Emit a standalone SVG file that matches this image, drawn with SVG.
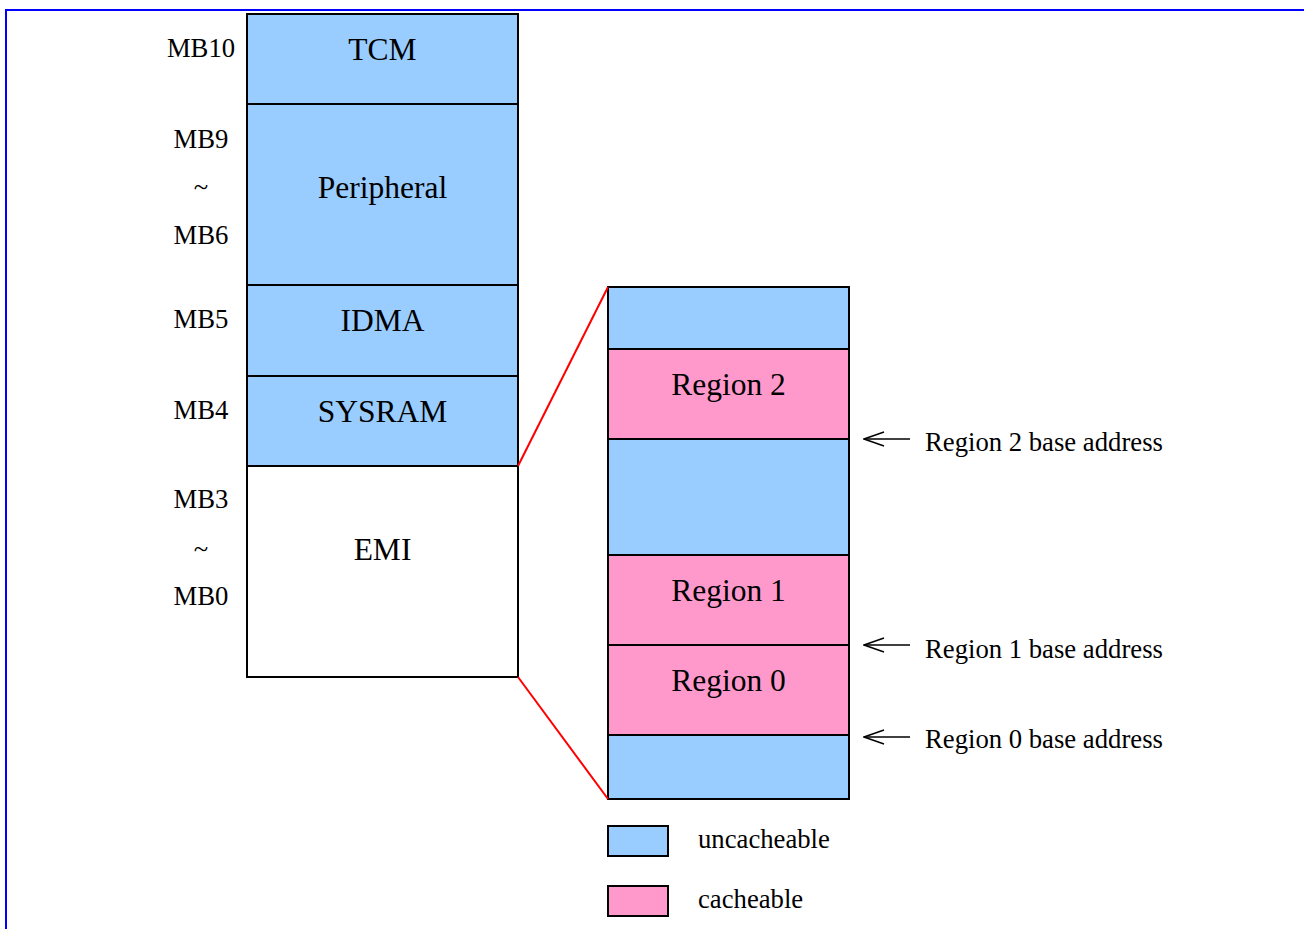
<svg xmlns="http://www.w3.org/2000/svg" width="1304" height="929" viewBox="0 0 1304 929">
  <defs>
    <style>
      .blk { stroke: #000; stroke-width: 2; }
      .unc { fill: #99ccff; }
      .cac { fill: #ff99cc; }
      .emi { fill: #ffffff; }
      .big { font-family: "Liberation Serif", "Times New Roman", serif; font-size: 31.5px; fill: #000; text-anchor: middle; }
      .lbl { font-family: "Liberation Serif", "Times New Roman", serif; font-size: 26.7px; fill: #000; }
      .mid { text-anchor: middle; }
      .zoom { stroke: #ff0000; stroke-width: 2; fill: none; }
      .ptr { stroke: #000; stroke-width: 1.5; fill: none; }
    </style>
    <marker id="open" viewBox="0 0 22 16" refX="21" refY="8" markerWidth="22" markerHeight="16" markerUnits="userSpaceOnUse" orient="auto">
      <path d="M1,1 L21,8 L1,15" fill="none" stroke="#000" stroke-width="1.5"/>
    </marker>
  </defs>

  <rect width="1304" height="929" fill="#ffffff"/>
  <!-- page frame -->
  <rect x="6" y="10" width="1310" height="940" fill="none" stroke="#0000ff" stroke-width="2"/>

  <!-- memory map -->
  <g id="tcm"><rect class="blk unc" x="247" y="14" width="271" height="90"/><text class="big" x="382.5" y="60">TCM</text></g>
  <g id="peripheral"><rect class="blk unc" x="247" y="104" width="271" height="181"/><text class="big" x="382.5" y="198">Peripheral</text></g>
  <g id="idma"><rect class="blk unc" x="247" y="285" width="271" height="91"/><text class="big" x="382.5" y="331">IDMA</text></g>
  <g id="sysram"><rect class="blk unc" x="247" y="376" width="271" height="90"/><text class="big" x="382.5" y="422">SYSRAM</text></g>
  <g id="emi"><rect class="blk emi" x="247" y="466" width="271" height="211"/><text class="big" x="382.5" y="560">EMI</text></g>

  <!-- bank labels -->
  <g id="bank-labels">
    <text class="lbl mid" x="201" y="57">MB10</text>
    <text class="lbl mid" x="201" y="148">MB9</text>
    <text class="lbl mid" x="201" y="196">~</text>
    <text class="lbl mid" x="201" y="244">MB6</text>
    <text class="lbl mid" x="201" y="328">MB5</text>
    <text class="lbl mid" x="201" y="419">MB4</text>
    <text class="lbl mid" x="201" y="508">MB3</text>
    <text class="lbl mid" x="201" y="558">~</text>
    <text class="lbl mid" x="201" y="605">MB0</text>
  </g>

  <!-- EMI detail -->
  <g id="emi-top"><rect class="blk unc" x="608" y="287" width="241" height="62"/></g>
  <g id="region2"><rect class="blk cac" x="608" y="349" width="241" height="90"/><text class="big" x="728.5" y="395">Region 2</text></g>
  <g id="emi-gap"><rect class="blk unc" x="608" y="439" width="241" height="116"/></g>
  <g id="region1"><rect class="blk cac" x="608" y="555" width="241" height="90"/><text class="big" x="728.5" y="601">Region 1</text></g>
  <g id="region0"><rect class="blk cac" x="608" y="645" width="241" height="90"/><text class="big" x="728.5" y="691">Region 0</text></g>
  <g id="emi-bottom"><rect class="blk unc" x="608" y="735" width="241" height="64"/></g>

  <!-- connectors -->
  <g id="connectors">
    <line class="zoom" x1="518" y1="466" x2="608" y2="287"/>
    <line class="zoom" x1="518" y1="677" x2="608" y2="799"/>
    <line class="ptr" x1="910" y1="439" x2="864" y2="439" marker-end="url(#open)"/>
    <line class="ptr" x1="910" y1="645" x2="864" y2="645" marker-end="url(#open)"/>
    <line class="ptr" x1="910" y1="737" x2="864" y2="737" marker-end="url(#open)"/>
  </g>

  <g id="base-labels">
    <text class="lbl" x="925" y="451">Region 2 base address</text>
    <text class="lbl" x="925" y="658">Region 1 base address</text>
    <text class="lbl" x="925" y="748">Region 0 base address</text>
  </g>

  <!-- legend -->
  <g id="legend-uncacheable"><rect class="blk unc" x="608" y="826" width="60" height="30"/><text class="lbl" x="698" y="848">uncacheable</text></g>
  <g id="legend-cacheable"><rect class="blk cac" x="608" y="886" width="60" height="30"/><text class="lbl" x="698" y="908">cacheable</text></g>
</svg>
